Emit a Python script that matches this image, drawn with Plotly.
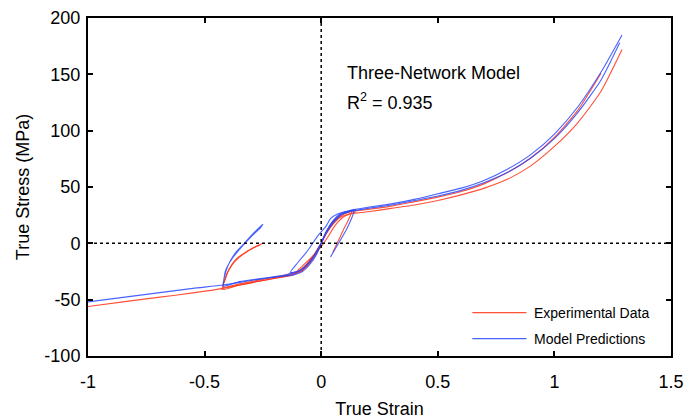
import plotly.graph_objects as go

# ---- axis ticks ----
x_ticks = [-1, -0.5, 0, 0.5, 1, 1.5]
x_tick_text = ["-1", "-0.5", "0", "0.5", "1", "1.5"]
y_ticks = [-100, -50, 0, 50, 100, 150, 200]
y_tick_text = ["-100", "-50", "0", "50", "100", "150", "200"]

# ---- experimental data (true strain, true stress in MPa) ----
exp_tension_a_x = [0, 0.02, 0.05, 0.08, 0.12, 0.2, 0.3, 0.4, 0.5, 0.6, 0.7, 0.8, 0.9, 1.0, 1.1, 1.2, 1.29]
exp_tension_a_y = [0, 8, 17, 23, 26, 28, 31, 34, 38, 43, 49, 57, 69, 86, 107, 135, 172]
exp_tension_b_x = [0, 0.02, 0.05, 0.08, 0.12, 0.2, 0.3, 0.4, 0.5, 0.6, 0.7, 0.8, 0.9, 1.0, 1.1, 1.2]
exp_tension_b_y = [0, 9, 19, 25, 28, 30, 33, 37, 41, 46, 53, 63, 76, 94, 118, 151]
exp_compression_x = [0, -0.02, -0.05, -0.08, -0.12, -0.2, -0.3, -0.42, -0.55, -0.7, -0.85, -1.0]
exp_compression_y = [0, -9, -18, -24, -28, -31, -35, -40, -44, -48, -52, -56]
exp_comp_unload_a_x = [0, -0.03, -0.08, -0.15, -0.25, -0.35, -0.425, -0.415, -0.4, -0.37, -0.33, -0.29, -0.25]
exp_comp_unload_a_y = [0, -11, -24, -29, -33, -37, -41, -33, -25, -16, -9, -4, 0]
exp_comp_unload_b_x = [0, -0.03, -0.08, -0.15, -0.25, -0.35, -0.42, -0.41, -0.395, -0.365, -0.325, -0.29, -0.26]
exp_comp_unload_b_y = [0, -10, -23, -28, -32, -36, -39, -31, -23, -14, -8, -4, -1]
exp_tens_unload_x = [0, 0.02, 0.05, 0.09, 0.13, 0.115, 0.1, 0.075, 0.05]
exp_tens_unload_y = [0, 8, 17, 25, 28, 20, 14, 3, -8]
exp_reload_x = [0, -0.04, -0.08, -0.12, -0.08, -0.04, 0, 0.03, 0.06, 0.1, 0.15]
exp_reload_y = [0, -13, -22, -28, -20, -12, -3, 6, 16, 24, 28]

# ---- model predictions ----
mod_tension_a_x = [0, 0.02, 0.05, 0.08, 0.12, 0.2, 0.3, 0.4, 0.5, 0.6, 0.7, 0.8, 0.9, 1.0, 1.1, 1.2, 1.29]
mod_tension_a_y = [0, 10, 20, 26, 29, 32, 35, 39, 44, 49, 56, 66, 79, 97, 121, 152, 185]
mod_tension_b_x = [0, 0.02, 0.05, 0.08, 0.12, 0.2, 0.3, 0.4, 0.5, 0.6, 0.7, 0.8, 0.9, 1.0, 1.1, 1.2, 1.28]
mod_tension_b_y = [0, 9, 19, 25, 28, 31, 34, 38, 42, 47, 54, 63, 76, 93, 116, 145, 178]
mod_compression_x = [0, -0.02, -0.05, -0.08, -0.12, -0.2, -0.3, -0.42, -0.55, -0.7, -0.85, -1.0]
mod_compression_y = [0, -10, -19, -25, -28, -30, -33, -37, -40, -44, -48, -52]
mod_comp_unload_x = [0, -0.03, -0.08, -0.15, -0.25, -0.35, -0.42, -0.415, -0.4, -0.37, -0.33, -0.29, -0.25,
                     -0.26, -0.3, -0.34, -0.38, -0.41, -0.42]
mod_comp_unload_y = [0, -11, -23, -28, -31, -34, -38, -30, -20, -9, 0, 9, 17, 14, 6, -3, -13, -24, -36]
mod_tens_unload_x = [0, 0.02, 0.05, 0.09, 0.14, 0.13, 0.11, 0.08, 0.04]
mod_tens_unload_y = [0, 9, 18, 26, 29, 22, 13, 2, -12]
mod_reload_x = [0, -0.04, -0.09, -0.133, -0.1, -0.06, -0.013, 0.02, 0.04, 0.07, 0.1, 0.15]
mod_reload_y = [0, -14, -24, -26, -17, -7, 7, 15, 22, 26, 28, 30]

EXP_COLOR = "rgba(255, 50, 20, 0.85)"
MOD_COLOR = "rgba(40, 70, 255, 0.85)"
FONT = "Liberation Sans, Arial, sans-serif"

exp_sets = [
    (exp_tension_a_x, exp_tension_a_y),
    (exp_tension_b_x, exp_tension_b_y),
    (exp_compression_x, exp_compression_y),
    (exp_comp_unload_a_x, exp_comp_unload_a_y),
    (exp_comp_unload_b_x, exp_comp_unload_b_y),
    (exp_tens_unload_x, exp_tens_unload_y),
    (exp_reload_x, exp_reload_y),
]
mod_sets = [
    (mod_tension_a_x, mod_tension_a_y),
    (mod_tension_b_x, mod_tension_b_y),
    (mod_compression_x, mod_compression_y),
    (mod_comp_unload_x, mod_comp_unload_y),
    (mod_tens_unload_x, mod_tens_unload_y),
    (mod_reload_x, mod_reload_y),
]

fig = go.Figure()
for xs, ys in exp_sets:
    fig.add_trace(go.Scatter(x=xs, y=ys, mode="lines", showlegend=False,
                             line=dict(color=EXP_COLOR, width=1.1, shape="spline", smoothing=0.6)))
for xs, ys in mod_sets:
    fig.add_trace(go.Scatter(x=xs, y=ys, mode="lines", showlegend=False,
                             line=dict(color=MOD_COLOR, width=1.1, shape="spline", smoothing=0.6)))

# dotted zero reference lines
fig.add_shape(type="line", x0=0, x1=0, y0=-100, y1=200, xref="x", yref="y",
              line=dict(color="black", width=1.5, dash="dot"))
fig.add_shape(type="line", x0=-1, x1=1.5, y0=0, y1=0, xref="x", yref="y",
              line=dict(color="black", width=1.5, dash="dot"))

# legend keys
legend_items = [("Experimental Data", EXP_COLOR, -61.5), ("Model Predictions", MOD_COLOR, -84.5)]
for label, color, ly in legend_items:
    fig.add_shape(type="line", x0=0.648, x1=0.880, y0=ly, y1=ly, xref="x", yref="y",
                  line=dict(color=color, width=1.2))
    fig.add_annotation(x=0.905, y=ly, xref="x", yref="y", text=label, showarrow=False,
                       xanchor="left", yanchor="middle", font=dict(family=FONT, size=14, color="black"))

fig.add_annotation(x=0.1, y=151, xref="x", yref="y", text="Three-Network Model", showarrow=False,
                   xanchor="left", yanchor="middle", font=dict(family=FONT, size=18, color="black"))
fig.add_annotation(x=0.1, y=126, xref="x", yref="y", text="R<sup>2</sup> = 0.935", showarrow=False,
                   xanchor="left", yanchor="middle", font=dict(family=FONT, size=18, color="black"))

axis_common = dict(showline=True, linecolor="black", linewidth=2, mirror="allticks",
                   ticks="inside", ticklen=5, tickwidth=1.5, tickcolor="black",
                   showgrid=False, zeroline=False, automargin=False,
                   tickfont=dict(family=FONT, size=18, color="black"))
fig.update_xaxes(range=[-1, 1.5], tickvals=x_ticks, ticktext=x_tick_text, ticklabelstandoff=8,
                 title=dict(text="True Strain", font=dict(family=FONT, size=18, color="black"), standoff=12),
                 **axis_common)
fig.update_yaxes(range=[-100, 200], tickvals=y_ticks, ticktext=y_tick_text, ticklabelstandoff=2,
                 title=dict(text="True Stress (MPa)", font=dict(family=FONT, size=18, color="black"), standoff=10),
                 **axis_common)

fig.update_layout(width=700, height=419, margin=dict(l=88, r=29, t=18, b=63),
                  paper_bgcolor="white", plot_bgcolor="white", showlegend=False)

fig.write_html("out.html")
